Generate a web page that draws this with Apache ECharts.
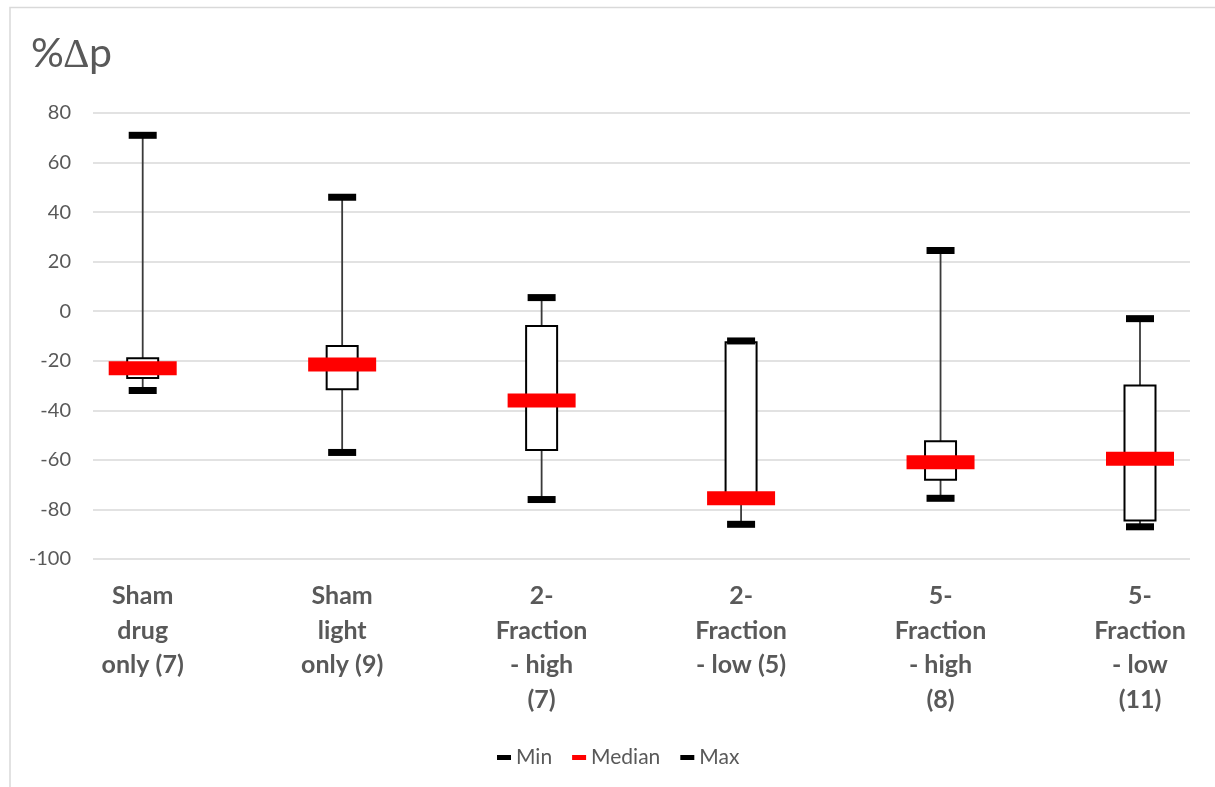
<!DOCTYPE html>
<html>
<head>
<meta charset="utf-8">
<script src="https://cdn.jsdelivr.net/npm/echarts@6/dist/echarts.min.js"></script>
<style>html,body{margin:0;padding:0;background:#fff}#c{width:1215px;height:787px}</style>
</head>
<body>
<div id="c"></div>
<script>
const categories = ['Sham\ndrug\nonly (7)', 'Sham\nlight\nonly (9)', '2-\nFraction\n- high\n(7)', '2-\nFraction\n- low (5)', '5-\nFraction\n- high\n(8)', '5-\nFraction\n- low\n(11)'];
const minValues = [-32, -57, -76, -86, -75.5, -87];
const q1Values = [-27, -31.5, -56, -77, -68, -84.5];
const medianValues = [-23, -21.5, -36, -75.5, -61, -59.5];
const q3Values = [-19, -14, -6, -12.5, -52.5, -30];
const maxValues = [71, 46, 5.5, -12, 24.5, -3];
const yTicks = {min: -100, max: 80, interval: 20};

const FONT = 'Lato';
const TXT = '#595959';

const boxData = categories.map((c, i) => [i, minValues[i], q1Values[i], q3Values[i], maxValues[i]]);

const chart = echarts.init(document.getElementById('c'), null, {renderer: 'canvas'});
chart.setOption({
  backgroundColor: '#fff',
  animation: false,
  title: {
    text: '%\u2206p', left: 31, top: 33, padding: 0,
    textStyle: {fontFamily: FONT, fontSize: 41, fontWeight: 'normal', color: TXT}
  },
  graphic: [{
    type: 'rect', silent: true,
    shape: {x: 10, y: 7.5, width: 1400, height: 900},
    style: {fill: 'none', stroke: '#d9d9d9', lineWidth: 1.5}
  }],
  legend: {
    left: 492, top: 742,
    itemWidth: 14, itemHeight: 5, itemGap: 20,
    icon: 'rect',
    data: ['Min', 'Median', 'Max'],
    textStyle: {fontFamily: FONT, fontSize: 21, color: TXT}
  },
  grid: [
    {left: 93, right: 25, top: 113, bottom: 228},
    {left: 142.7, right: 75, top: 113, bottom: 228}
  ],
  xAxis: [
    {gridIndex: 0, type: 'category', data: categories, show: false},
    {
      gridIndex: 1, type: 'category', data: categories, boundaryGap: false,
      axisLine: {show: false}, axisTick: {show: false}, splitLine: {show: false},
      axisLabel: {
        interval: 0, margin: 20, fontFamily: FONT, fontSize: 25, fontWeight: 'bold',
        color: TXT, lineHeight: 34.5, align: 'center'
      }
    }
  ],
  yAxis: [
    {
      gridIndex: 0, type: 'value', min: yTicks.min, max: yTicks.max, interval: yTicks.interval,
      axisLine: {show: false}, axisTick: {show: false},
      splitLine: {lineStyle: {color: '#d9d9d9', width: 1.5}},
      axisLabel: {margin: 22, fontFamily: FONT, fontSize: 20, color: TXT}
    },
    {
      gridIndex: 1, type: 'value', min: yTicks.min, max: yTicks.max, interval: yTicks.interval,
      show: false, splitLine: {show: false}
    }
  ],
  series: [
    {
      type: 'custom', xAxisIndex: 1, yAxisIndex: 1, z: 2,
      data: boxData,
      encode: {x: 0, y: [1, 2, 3, 4]},
      renderItem: function (params, api) {
        const i = api.value(0);
        const pMin = api.coord([i, api.value(1)]);
        const pQ1 = api.coord([i, api.value(2)]);
        const pQ3 = api.coord([i, api.value(3)]);
        const pMax = api.coord([i, api.value(4)]);
        const bw = 31;
        return {
          type: 'group',
          children: [
            {type: 'line', shape: {x1: pMin[0], y1: pMin[1], x2: pMax[0], y2: pMax[1]},
             style: {stroke: '#3a3a3a', lineWidth: 1.8}},
            {type: 'rect', shape: {x: pQ3[0] - bw / 2, y: pQ3[1], width: bw, height: pQ1[1] - pQ3[1]},
             style: {fill: '#fff', stroke: '#000', lineWidth: 2}}
          ]
        };
      }
    },
    {
      name: 'Min', type: 'scatter', xAxisIndex: 1, yAxisIndex: 1, z: 4,
      data: minValues, symbol: 'rect', symbolSize: [28, 7],
      itemStyle: {color: '#000', opacity: 1}
    },
    {
      name: 'Median', type: 'scatter', xAxisIndex: 1, yAxisIndex: 1, z: 3,
      data: medianValues, symbol: 'rect', symbolSize: [68, 14],
      itemStyle: {color: '#ff0000', opacity: 1}
    },
    {
      name: 'Max', type: 'scatter', xAxisIndex: 1, yAxisIndex: 1, z: 4,
      data: maxValues, symbol: 'rect', symbolSize: [28, 7],
      itemStyle: {color: '#000', opacity: 1}
    }
  ]
});
</script>
</body>
</html>
